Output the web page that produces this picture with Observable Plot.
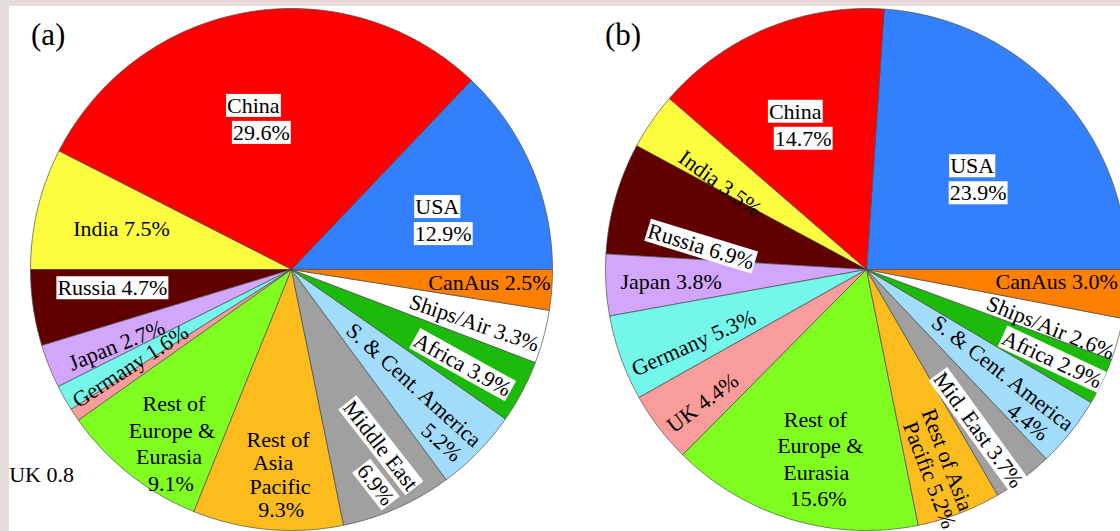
<!DOCTYPE html>
<html><head><meta charset="utf-8">
<script src="https://cdn.jsdelivr.net/npm/d3@7"></script>
<script src="https://cdn.jsdelivr.net/npm/@observablehq/plot@0.6"></script>
<style>
html,body{margin:0;padding:0;background:#e6dcda;width:1120px;height:531px;overflow:hidden}
#wrap{position:absolute;left:9px;top:6px;width:1111px;height:525px;background:#fff;overflow:hidden}
#chart{position:absolute;left:0;top:0}
.panel{position:absolute;font-family:"Liberation Serif","Times New Roman",serif;font-size:31px;line-height:1;color:#000}
</style></head><body>
<div id="wrap"><div id="chart"></div>
<div class="panel" style="left:22px;top:13px">(a)</div>
<div class="panel" style="left:596px;top:13px">(b)</div>
</div>
<script>
// ---- data ----
const categories = ["USA","China","India","Russia","Japan","Germany","UK","Rest of Europe & Eurasia","Rest of Asia Pacific","Middle East","S. & Cent. America","Africa","Ships/Air","CanAus"];
const colors = ["#3380fe","#ff0000","#fdfd40","#600000","#d3a6fd","#74f6ea","#f89c9c","#80fd20","#fcbc1e","#a0a0a0","#a2dcfb","#1cba0b","#ffffff","#ff7f00"];
const sharesA = [12.9, 29.6, 7.5, 4.7, 2.7, 1.6, 0.8, 9.1, 9.3, 6.9, 5.2, 3.9, 3.3, 2.5];
const sharesB = [23.9, 14.7, 3.5, 6.9, 3.8, 5.3, 4.4, 15.6, 5.2, 3.7, 4.4, 2.9, 2.6, 3.0];
const labelsA = ["USA\n12.9%","China\n29.6%","India 7.5%","Russia 4.7%","Japan 2.7%","Germany 1.6%","UK 0.8","Rest of\nEurope &\nEurasia\n9.1%","Rest of\nAsia\nPacific\n9.3%","Middle East\n6.9%","S. & Cent. America\n5.2%","Africa 3.9%","Ships/Air 3.3%","CanAus 2.5%"];
const labelsB = ["USA\n23.9%","China\n14.7%","India 3.5%","Russia 6.9%","Japan 3.8%","Germany 5.3%","UK 4.4%","Rest of\nEurope &\nEurasia\n15.6%","Rest of Asia\nPacific 5.2%","Mid. East 3.7%","S. & Cent. America\n4.4%","Africa 2.9%","Ships/Air 2.6%","CanAus 3.0%"];
const boxedA = [true,true,false,true,false,false,false,false,false,true,false,true,false,false];
const boxedB = [true,true,false,true,false,false,false,false,false,true,false,true,false,false];

// ---- label layout: radius fraction, angle shift (deg), rotation (deg), line spacing (px), per-line shift along text (px) ----
const labRadA = [0.60,0.59,0.67,0.69,0.73,0.72,1.24,0.81,0.79,0.82,0.76,0.75,0.73,0.76];
const labShiftA = [-5,3.1,0,-2.5,1.7,1.5,5.6,3.9,1.2,-0.1,-2.4,-1.3,-1.4,0.5];
const labRotA = [0,0,0,0,-22,-33,0,0,0,52,42,29,19,0];
const labGapA = [27,27,24,24,24,24,24,26.5,23.5,28,24,24,24,24];
const labAlongA = [[-3,3],[-4,4],[0],[0],[0],[0],[0],[2,0,-3,-1],[1,-4,3,4],[-14,14],[-29.5,29.5],[0],[0],[0]];
const labRadB = [0.54,0.61,0.65,0.64,0.75,0.72,0.81,0.75,0.807,0.75,0.752,0.79,0.74,0.73];
const labShiftB = [-3.5,2.4,4.2,8,0.3,3.3,1.9,2.4,-0.9,-2,-2.2,-0.5,-2.1,1.6];
const labRotB = [0,0,36,17,0,-24,-37,0,69,54,38,25,22,0];
const labGapB = [27,27,24,24,24,24,24,26.5,22,24,23,24,24,24];
const labAlongB = [[-3,3],[-4,4],[0],[0],[0],[0],[0],[-3,2,-2,0],[-4,4],[0],[-25,25],[0],[0],[0]];

// ---- layout ----
const W = 1111, H = 525, R = 261, cxA = 282, cxB = 857, cy = 263;
const pies = [
  {id: "a", cx: 0, shares: sharesA, labels: labelsA, boxed: boxedA, rad: labRadA, shift: labShiftA, rot: labRotA, gap: labGapA, along: labAlongA},
  {id: "b", cx: (cxB - cxA) / R, shares: sharesB, labels: labelsB, boxed: boxedB, rad: labRadB, shift: labShiftB, rot: labRotB, gap: labGapB, along: labAlongB}
];

const polys = [];
const lines = [];
for (const p of pies) {
  const total = d3.sum(p.shares);
  let cum = 0;
  p.shares.forEach((v, i) => {
    const a0 = cum / total * 360, a1 = (cum + v) / total * 360;
    cum += v;
    const key = p.id + i;
    polys.push({key, cat: categories[i], x: p.cx, y: 0});
    const n = Math.max(2, Math.ceil((a1 - a0) / 0.5));
    for (let k = 0; k <= n; k++) {
      const t = (a0 + (a1 - a0) * k / n) * Math.PI / 180;
      polys.push({key, cat: categories[i], x: p.cx + Math.cos(t), y: Math.sin(t)});
    }
    polys.push({key, cat: categories[i], x: p.cx, y: 0});
    // label, one text per line
    const am = ((a0 + a1) / 2 + p.shift[i]) * Math.PI / 180;
    const bx = p.cx + p.rad[i] * Math.cos(am), by = p.rad[i] * Math.sin(am);
    const parts = p.labels[i].split("\n");
    const rr = p.rot[i] * Math.PI / 180;
    parts.forEach((s, j) => {
      const perp = (j - (parts.length - 1) / 2) * p.gap[i];
      const along = p.along[i][j] || 0;
      const sx = along * Math.cos(rr) - perp * Math.sin(rr);
      const sy = along * Math.sin(rr) + perp * Math.cos(rr);
      lines.push({text: s, boxed: p.boxed[i], rotate: p.rot[i], x: bx + sx / R, y: by - sy / R});
    });
  });
}

const font = {fontSize: 22, fontFamily: "'Liberation Serif','Times New Roman',serif", fill: "black", rotate: "rotate", text: "text", x: "x", y: "y"};

const svg = Plot.plot({
  width: W, height: H, margin: 0,
  style: {background: "white", overflow: "visible"},
  x: {domain: [-cxA / R, (W - cxA) / R], axis: null},
  y: {domain: [(cy - H) / R, cy / R], axis: null},
  color: {domain: categories, range: colors},
  marks: [
    Plot.line(polys, {x: "x", y: "y", z: "key", fill: "cat", stroke: "#4a4a4a", strokeWidth: 0.7, strokeLinejoin: "miter", curve: "linear"}),
    Plot.text(lines.filter(d => !d.boxed), {...font}),
    Plot.text(lines.filter(d => d.boxed), {...font, className: "boxed"})
  ]
});
document.getElementById("chart").append(svg);

// white boxes behind boxed label lines
const NS = "http://www.w3.org/2000/svg";
svg.querySelectorAll("g.boxed text").forEach(t => {
  const b = t.getBBox();
  const r = document.createElementNS(NS, "rect");
  r.setAttribute("x", b.x - 1);
  r.setAttribute("y", b.y + 1);
  r.setAttribute("width", b.width + 2);
  r.setAttribute("height", b.height - 2);
  r.setAttribute("fill", "white");
  const tr = t.getAttribute("transform");
  if (tr) r.setAttribute("transform", tr);
  t.parentNode.insertBefore(r, t);
});
</script>
</body></html>
